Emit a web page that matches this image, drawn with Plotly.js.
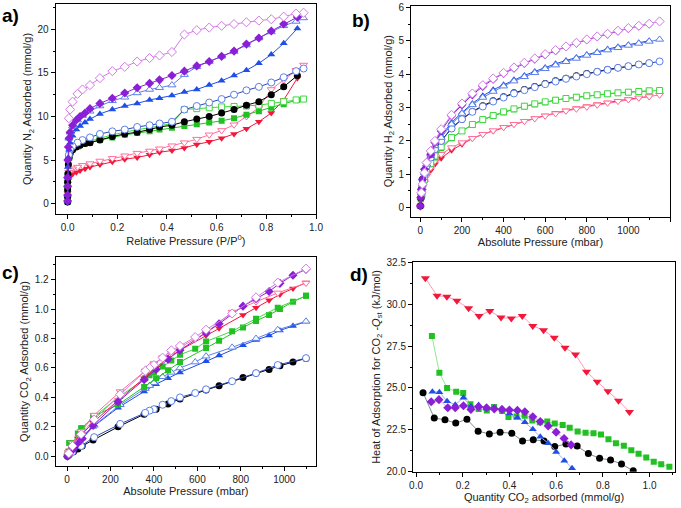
<!DOCTYPE html>
<html>
<head>
<meta charset="utf-8">
<script src="https://cdn.plot.ly/plotly-3.0.1.min.js"></script>
<style>
html,body{margin:0;padding:0;background:#fff;}
#chart{width:681px;height:508px;}
</style>
</head>
<body>
<div id="chart"></div>
<script>
// ---- panel a) N2 isotherms at 77 K ----
const a_p_ads = [0, 0, 0, 0, 0.001, 0.003, 0.006, 0.01, 0.02, 0.035, 0.05, 0.07, 0.09, 0.13, 0.18, 0.23, 0.28, 0.33, 0.37, 0.42, 0.47, 0.52, 0.57, 0.62, 0.67, 0.72, 0.77, 0.82, 0.87, 0.925];
const a_p_des = [0.95, 0.92, 0.87, 0.82, 0.77, 0.72, 0.67, 0.62, 0.57, 0.52, 0.47, 0.42, 0.37, 0.33, 0.28, 0.23, 0.18, 0.13, 0.09, 0.06, 0.04, 0.02, 0.01, 0.005];
const a_purple_ads = [0.3, 1.0, 2.0, 3.0, 5.0, 6.5, 7.5, 8.2, 9.0, 9.6, 10.0, 10.4, 10.9, 11.5, 12.1, 12.7, 13.3, 13.8, 14.2, 14.7, 15.2, 15.8, 16.3, 16.9, 17.5, 18.3, 19.0, 19.8, 20.6, 21.4];
const a_purple_des = [21.9, 21.8, 21.45, 21.15, 21.0, 20.8, 20.6, 20.4, 20.2, 19.9, 19.4, 17.4, 17.0, 16.7, 16.3, 15.7, 15.2, 14.4, 13.6, 13.1, 12.6, 11.7, 10.8, 9.8];
const a_blue_ads = [0.3, 1.0, 2.0, 3.0, 4.2, 5.3, 6.2, 7.0, 7.8, 8.5, 8.9, 9.3, 9.7, 10.3, 10.8, 11.2, 11.5, 11.9, 12.1, 12.4, 12.8, 13.1, 13.6, 14.1, 14.7, 15.3, 16.1, 17.1, 18.4, 20.1];
const a_blue_des = [21.3, 20.9, 20.4, 19.7, 19.0, 18.2, 17.45, 16.9, 16.3, 15.7, 14.8, 13.6, 13.3, 13.1, 12.7, 12.2, 11.8, 11.2, 10.6, 10.1, 9.6, 8.9, 8.2, 7.5];
const a_black_ads = [0.2, 0.8, 1.6, 2.5, 3.4, 4.5, 5.3, 5.8, 6.2, 6.5, 6.7, 6.9, 7.0, 7.3, 7.7, 8.0, 8.2, 8.5, 8.8, 9.0, 9.4, 9.7, 10.0, 10.4, 10.8, 11.3, 11.7, 12.5, 13.4, 14.7];
const a_black_des = [15.5, 15.2, 14.5, 13.9, 13.4, 13.0, 12.5, 12.0, 11.6, 11.2, 10.8, 9.4, 9.2, 9.0, 8.8, 8.5, 8.3, 8.0, 7.6, 7.3, 7.0, 6.6, 6.2, 5.6];
const a_green_ads = [0.2, 0.8, 1.6, 2.5, 3.4, 4.5, 5.3, 5.9, 6.3, 6.6, 6.8, 6.9, 7.0, 7.3, 7.6, 7.9, 8.1, 8.3, 8.5, 8.7, 8.9, 9.1, 9.3, 9.5, 9.8, 10.2, 10.6, 11.0, 11.4, 11.9];
const a_green_des = [12.0, 11.9, 11.7, 11.5, 11.3, 11.2, 11.15, 11.1, 11.0, 10.9, 10.8, 9.2, 8.9, 8.7, 8.5, 8.2, 7.9, 7.5, 7.2, 6.9, 6.6, 6.3, 5.9, 5.4];
const a_red_ads = [0.2, 0.6, 1.2, 1.8, 2.3, 2.7, 3.0, 3.2, 3.4, 3.6, 3.8, 4.0, 4.2, 4.5, 4.8, 5.1, 5.3, 5.6, 5.9, 6.1, 6.4, 6.8, 7.1, 7.5, 8.0, 8.6, 9.4, 10.4, 11.9, 14.4];
const a_red_des = [15.9, 15.3, 14.2, 13.1, 11.0, 10.0, 9.05, 8.4, 7.9, 7.4, 7.0, 6.65, 6.3, 6.05, 5.8, 5.5, 5.2, 4.9, 4.6, 4.4, 4.2, 4.0, 3.8, 3.6];

// ---- panel b) H2 isotherms ----
const b_p_ads = [0, 2, 5, 10, 20, 30, 50, 70, 100, 150, 200, 250, 300, 350, 400, 450, 500, 550, 600, 650, 700, 750, 800, 850, 900, 950, 1000, 1050, 1100];
const b_p_des = [1150, 1100, 1050, 1000, 950, 900, 850, 800, 750, 700, 650, 600, 550, 500, 450, 400, 350, 300, 250, 200, 150, 100, 70, 50, 30, 20, 10, 5];
const b_purple_ads = [0.05, 0.3, 0.55, 0.85, 1.15, 1.35, 1.6, 1.95, 2.3, 2.75, 3.08, 3.38, 3.63, 3.85, 4.02, 4.18, 4.32, 4.45, 4.58, 4.7, 4.82, 4.93, 5.03, 5.12, 5.2, 5.29, 5.37, 5.44, 5.5];
const b_purple_des = [5.58, 5.51, 5.45, 5.38, 5.3, 5.21, 5.13, 5.04, 4.94, 4.83, 4.72, 4.6, 4.47, 4.34, 4.2, 4.04, 3.87, 3.67, 3.42, 3.12, 2.78, 2.35, 2.0, 1.7, 1.35, 1.05, 0.7, 0.45];
const b_blue_ads = [0.05, 0.3, 0.55, 0.85, 1.1, 1.3, 1.55, 1.85, 2.15, 2.55, 2.85, 3.12, 3.35, 3.53, 3.68, 3.83, 3.96, 4.08, 4.2, 4.31, 4.41, 4.5, 4.59, 4.67, 4.75, 4.82, 4.88, 4.94, 5.0];
const b_blue_des = [5.04, 4.98, 4.92, 4.86, 4.79, 4.72, 4.64, 4.56, 4.47, 4.37, 4.27, 4.16, 4.04, 3.92, 3.79, 3.64, 3.48, 3.3, 3.08, 2.82, 2.5, 2.1, 1.85, 1.6, 1.3, 1.05, 0.7, 0.45];
const b_black_ads = [0.05, 0.3, 0.55, 0.85, 1.1, 1.3, 1.5, 1.75, 2.0, 2.38, 2.65, 2.88, 3.05, 3.2, 3.32, 3.44, 3.54, 3.63, 3.72, 3.8, 3.88, 3.95, 4.02, 4.08, 4.14, 4.19, 4.24, 4.29, 4.33];
const b_black_des = [4.38, 4.33, 4.29, 4.24, 4.19, 4.13, 4.07, 4.0, 3.93, 3.86, 3.78, 3.7, 3.61, 3.52, 3.42, 3.3, 3.18, 3.03, 2.87, 2.65, 2.37, 2.0, 1.75, 1.5, 1.25, 1.0, 0.68, 0.42];
const b_green_ads = [0.05, 0.25, 0.45, 0.7, 0.95, 1.1, 1.3, 1.5, 1.78, 2.08, 2.3, 2.48, 2.63, 2.75, 2.86, 2.95, 3.03, 3.1, 3.16, 3.22, 3.27, 3.31, 3.35, 3.38, 3.41, 3.44, 3.46, 3.48, 3.5];
const b_green_des = [3.51, 3.5, 3.48, 3.46, 3.44, 3.41, 3.38, 3.35, 3.31, 3.27, 3.22, 3.17, 3.11, 3.04, 2.96, 2.87, 2.76, 2.64, 2.49, 2.3, 2.1, 1.82, 1.55, 1.32, 1.05, 0.85, 0.55, 0.35];
const b_red_ads = [0.05, 0.2, 0.4, 0.6, 0.8, 0.95, 1.12, 1.3, 1.48, 1.72, 1.9, 2.07, 2.2, 2.3, 2.4, 2.5, 2.6, 2.68, 2.76, 2.84, 2.91, 2.98, 3.04, 3.1, 3.15, 3.2, 3.25, 3.29, 3.33];
const b_red_des = [3.38, 3.33, 3.29, 3.24, 3.19, 3.14, 3.08, 3.02, 2.96, 2.9, 2.82, 2.75, 2.67, 2.59, 2.5, 2.41, 2.31, 2.2, 2.08, 1.95, 1.8, 1.6, 1.4, 1.2, 0.95, 0.75, 0.5, 0.3];

// ---- panel c) CO2 isotherms ----
const c_p_ads = [2, 10, 30, 50, 70, 120, 235, 355, 410, 465, 520, 640, 700, 810, 870, 930, 980, 1040, 1100];
const c_p_des = [1100, 970, 870, 760, 640, 590, 520, 480, 440, 400, 380, 360, 245, 125, 65, 25, 8];
const c_purple_ads = [0.0, 0.02, 0.05, 0.09, 0.12, 0.21, 0.37, 0.52, 0.59, 0.66, 0.72, 0.84, 0.9, 1.02, 1.07, 1.12, 1.175, 1.23, 1.27];
const c_purple_des = [1.275, 1.18, 1.08, 0.97, 0.86, 0.81, 0.75, 0.72, 0.67, 0.62, 0.6, 0.58, 0.42, 0.25, 0.15, 0.07, 0.02];
const c_blue_ads = [0.0, 0.02, 0.05, 0.09, 0.12, 0.2, 0.33, 0.44, 0.49, 0.53, 0.57, 0.645, 0.685, 0.755, 0.79, 0.82, 0.855, 0.885, 0.915];
const c_blue_des = [0.917, 0.86, 0.8, 0.74, 0.68, 0.64, 0.6, 0.57, 0.54, 0.5, 0.48, 0.46, 0.35, 0.21, 0.13, 0.06, 0.02];
const c_black_ads = [0.0, 0.01, 0.03, 0.05, 0.07, 0.11, 0.2, 0.285, 0.32, 0.355, 0.39, 0.45, 0.48, 0.535, 0.565, 0.59, 0.615, 0.64, 0.665];
const c_black_des = [0.667, 0.62, 0.565, 0.51, 0.455, 0.43, 0.4, 0.375, 0.35, 0.32, 0.31, 0.295, 0.22, 0.13, 0.07, 0.03, 0.01];
const c_green_ads = [0.02, 0.09, 0.08, 0.155, 0.19, 0.27, 0.35, 0.47, 0.53, 0.585, 0.64, 0.735, 0.785, 0.875, 0.92, 0.96, 1.0, 1.05, 1.09];
const c_green_des = [1.09, 1.01, 0.935, 0.85, 0.78, 0.73, 0.69, 0.65, 0.61, 0.57, 0.55, 0.53, 0.41, 0.27, 0.19, 0.09, 0.03];
const c_red_ads = [0.0, 0.04, 0.08, 0.12, 0.15, 0.23, 0.38, 0.53, 0.6, 0.67, 0.72, 0.82, 0.87, 0.96, 1.01, 1.06, 1.1, 1.14, 1.18];
const c_red_des = [1.177, 1.11, 1.05, 0.98, 0.84, 0.8, 0.74, 0.7, 0.67, 0.63, 0.6, 0.58, 0.44, 0.28, 0.17, 0.09, 0.03];

// ---- panel d) isosteric heat of CO2 adsorption ----
const d_red_q = [0.04, 0.09, 0.132, 0.175, 0.225, 0.27, 0.316, 0.364, 0.408, 0.455, 0.5, 0.546, 0.592, 0.638, 0.683, 0.73, 0.776, 0.822, 0.867, 0.914];
const d_red_h = [31.55, 30.5, 30.45, 30.2, 29.75, 29.3, 29.6, 29.2, 29.15, 29.3, 28.7, 28.45, 28.0, 27.4, 27.0, 25.97, 25.37, 24.8, 24.24, 23.57];
const d_green_q = [0.068, 0.1, 0.133, 0.172, 0.202, 0.233, 0.268, 0.303, 0.334, 0.369, 0.396, 0.43, 0.465, 0.498, 0.53, 0.562, 0.594, 0.628, 0.658, 0.692, 0.726, 0.76, 0.792, 0.824, 0.856, 0.89, 0.922, 0.953, 0.986, 1.018, 1.05, 1.085];
const d_green_h = [28.1, 25.9, 25.0, 24.78, 24.7, 24.02, 23.74, 23.65, 23.86, 23.62, 23.26, 23.3, 23.34, 23.05, 22.95, 22.99, 22.87, 22.79, 22.62, 22.4, 22.33, 22.3, 22.22, 21.93, 21.7, 21.55, 21.28, 21.07, 20.85, 20.6, 20.45, 20.3];
const d_blue_q = [0.07, 0.1, 0.133, 0.168, 0.203, 0.235, 0.268, 0.302, 0.335, 0.37, 0.4, 0.434, 0.466, 0.5, 0.532, 0.566, 0.6, 0.635, 0.668];
const d_blue_h = [24.78, 24.75, 24.2, 24.0, 24.42, 23.9, 23.98, 23.78, 23.8, 23.7, 23.48, 23.22, 22.95, 22.53, 22.08, 21.7, 21.18, 20.66, 20.2];
const d_purple_q = [0.065, 0.098, 0.136, 0.168, 0.203, 0.235, 0.268, 0.302, 0.335, 0.368, 0.4, 0.434, 0.466, 0.5, 0.532, 0.566, 0.6, 0.634, 0.664];
const d_purple_h = [24.18, 24.3, 23.82, 23.82, 23.94, 23.72, 23.88, 23.82, 23.75, 23.72, 23.68, 23.66, 23.58, 23.28, 22.99, 22.73, 22.36, 21.98, 21.6];
const d_black_q = [0.03, 0.078, 0.124, 0.17, 0.218, 0.266, 0.314, 0.36, 0.41, 0.456, 0.502, 0.548, 0.594, 0.642, 0.69, 0.738, 0.786, 0.833, 0.88, 0.93];
const d_black_h = [24.72, 23.2, 23.1, 22.9, 23.13, 22.42, 22.25, 22.35, 22.3, 21.84, 21.9, 21.84, 21.5, 21.65, 21.53, 21.08, 20.8, 20.7, 20.46, 20.05];

// colours
const C = {
    purple: '#8a1fd6', violet: '#d27ae6',
    blue: '#1f4fe6', lblue: '#5c7fe8',
    black: '#000000', oblue: '#2a45b8',
    green: '#22c022', lgreen: '#3fd83f',
    red: '#f2183c', pink: '#ff6f9c'
};

function tr(x, y, ax, sym, fill, edge, line, size){
    return {
        x: x, y: y, xaxis: 'x' + ax, yaxis: 'y' + ax,
        type: 'scatter', mode: 'lines+markers', showlegend: false,
        line: {color: line, width: 1},
        marker: {symbol: sym, size: size || 7, color: fill, line: {color: edge, width: fill == '#ffffff' ? 1 : 0}}
    };
}
const W = '#ffffff';

let traces = [
    // a
    tr(a_p_ads, a_red_ads, 1, 'triangle-down', C.red, C.red, C.red),
    tr(a_p_des, a_red_des, 1, 'triangle-down', W, C.pink, C.pink),
    tr(a_p_ads, a_green_ads, 1, 'square', C.green, C.green, C.green, 6),
    tr(a_p_des, a_green_des, 1, 'square', W, C.lgreen, C.lgreen, 6),
    tr(a_p_ads, a_black_ads, 1, 'circle', C.black, C.black, C.black),
    tr(a_p_des, a_black_des, 1, 'circle', W, C.lblue, C.oblue),
    tr(a_p_ads, a_blue_ads, 1, 'triangle-up', C.blue, C.blue, C.blue),
    tr(a_p_des, a_blue_des, 1, 'triangle-up', W, C.lblue, C.lblue),
    tr(a_p_ads, a_purple_ads, 1, 'diamond', C.purple, C.purple, C.purple),
    tr(a_p_des, a_purple_des, 1, 'diamond', W, C.violet, C.violet),
    // b
    tr(b_p_ads, b_red_ads, 2, 'triangle-down', C.red, C.red, C.red),
    tr(b_p_des, b_red_des, 2, 'triangle-down', W, C.pink, C.pink),
    tr(b_p_ads, b_green_ads, 2, 'square', C.green, C.green, C.green, 6),
    tr(b_p_des, b_green_des, 2, 'square', W, C.lgreen, C.lgreen, 6),
    tr(b_p_ads, b_black_ads, 2, 'circle', C.black, C.black, C.black),
    tr(b_p_des, b_black_des, 2, 'circle', W, C.lblue, C.oblue),
    tr(b_p_ads, b_blue_ads, 2, 'triangle-up', C.blue, C.blue, C.blue),
    tr(b_p_des, b_blue_des, 2, 'triangle-up', W, C.lblue, C.lblue),
    tr(b_p_ads, b_purple_ads, 2, 'diamond', C.purple, C.purple, C.purple),
    tr(b_p_des, b_purple_des, 2, 'diamond', W, C.violet, C.violet),
    // c
    tr(c_p_ads, c_black_ads, 3, 'circle', C.black, C.black, C.black),
    tr(c_p_des, c_black_des, 3, 'circle', W, C.lblue, C.oblue),
    tr(c_p_ads, c_blue_ads, 3, 'triangle-up', C.blue, C.blue, C.blue),
    tr(c_p_des, c_blue_des, 3, 'triangle-up', W, C.lblue, C.lblue),
    tr(c_p_ads, c_green_ads, 3, 'square', C.green, C.green, C.green, 6),
    tr(c_p_des, c_green_des, 3, 'square', C.green, C.green, C.lgreen, 6),
    tr(c_p_ads, c_red_ads, 3, 'triangle-down', C.red, C.red, C.red),
    tr(c_p_des, c_red_des, 3, 'triangle-down', W, C.pink, C.pink),
    tr(c_p_ads, c_purple_ads, 3, 'diamond', C.purple, C.purple, C.purple),
    tr(c_p_des, c_purple_des, 3, 'diamond', W, C.violet, C.violet),
    // d
    tr(d_black_q, d_black_h, 4, 'circle', C.black, C.black, '#7d9090'),
    tr(d_green_q, d_green_h, 4, 'square', C.green, C.green, '#8fe88f', 6),
    tr(d_blue_q, d_blue_h, 4, 'triangle-up', C.blue, C.blue, '#9fb4ee'),
    tr(d_purple_q, d_purple_h, 4, 'diamond', C.purple, C.purple, '#d9a0ee'),
    tr(d_red_q, d_red_h, 4, 'triangle-down', C.red, C.red, '#ff9ab8', 8)
];

const tickFont = {family: 'Arial, Liberation Sans, sans-serif', size: 10, color: '#222'};
const titleFont = {family: 'Arial, Liberation Sans, sans-serif', size: 11, color: '#222'};

function axis(dom, range, dtick, minor, title, extra){
    let a = {
        domain: dom, range: range, dtick: dtick, tick0: 0,
        showgrid: false, zeroline: false,
        showline: true, linecolor: '#000', linewidth: 1, mirror: true,
        ticks: 'outside', ticklen: 4, tickwidth: 1, tickcolor: '#000',
        minor: {ticks: 'outside', ticklen: 2, tickwidth: 1, tickcolor: '#000', dtick: minor, showgrid: false},
        tickfont: tickFont,
        title: {text: title, font: titleFont, standoff: 3},
        fixedrange: true
    };
    return Object.assign(a, extra || {});
}

const PX = (v) => v / 681, PY = (v) => 1 - v / 508;

const layout = {
    width: 681, height: 508,
    margin: {l: 0, r: 0, t: 0, b: 0},
    paper_bgcolor: '#fff', plot_bgcolor: '#fff',
    showlegend: false,
    xaxis1: axis([PX(55.7), PX(316)], [-0.048, 1.0], 0.2, 0.1, 'Relative Pressure (P/P<sup>0</sup>)', {anchor: 'y1', tickformat: '.1f'}),
    yaxis1: axis([PY(214), PY(4)], [-1.18, 22.9], 5, 2.5, 'Quantity N<sub>2</sub> Adsorbed (mmol/g)', {anchor: 'x1'}),
    xaxis2: axis([PX(411), PX(670)], [-45, 1200], 200, 100, 'Absolute Pressure (mbar)', {anchor: 'y2'}),
    yaxis2: axis([PY(216.7), PY(5.7)], [-0.27, 6.05], 1, 0.5, 'Quantity H<sub>2</sub> Adsorbed (mmol/g)', {anchor: 'x2'}),
    xaxis3: axis([PX(55.7), PX(316)], [-52, 1146], 200, 100, 'Absolute Pressure (mbar)', {anchor: 'y3'}),
    yaxis3: axis([PY(466), PY(257)], [-0.066, 1.354], 0.2, 0.1, 'Quantity CO<sub>2</sub> Adsorbed (mmol/g)', {anchor: 'x3', tickformat: '.1f'}),
    xaxis4: axis([PX(413), PX(675)], [-0.013, 1.109], 0.2, 0.1, 'Quantity CO<sub>2</sub> adsorbed (mmol/g)', {anchor: 'y4', tickformat: '.1f'}),
    yaxis4: axis([PY(471.7), PY(262.3)], [20, 32.5], 2.5, 1.25, 'Heat of Adsorption for CO<sub>2</sub> -<i>Q</i><sub>st</sub> (kJ/mol)', {anchor: 'x4', tickformat: '.1f'}),
    annotations: [
        ['a)', 0, 16], ['b)', 350, 20], ['c)', 0, 272], ['d)', 348, 274]
    ].map(([t, x, y]) => ({
        text: t, x: PX(x), y: PY(y), xref: 'paper', yref: 'paper',
        xanchor: 'left', yanchor: 'middle', showarrow: false,
        font: {family: 'Arial, Liberation Sans, sans-serif', size: 19, color: '#000', weight: 'bold'}
    }))
};

Plotly.newPlot('chart', traces, layout, {staticPlot: true, displayModeBar: false});
</script>
</body>
</html>
